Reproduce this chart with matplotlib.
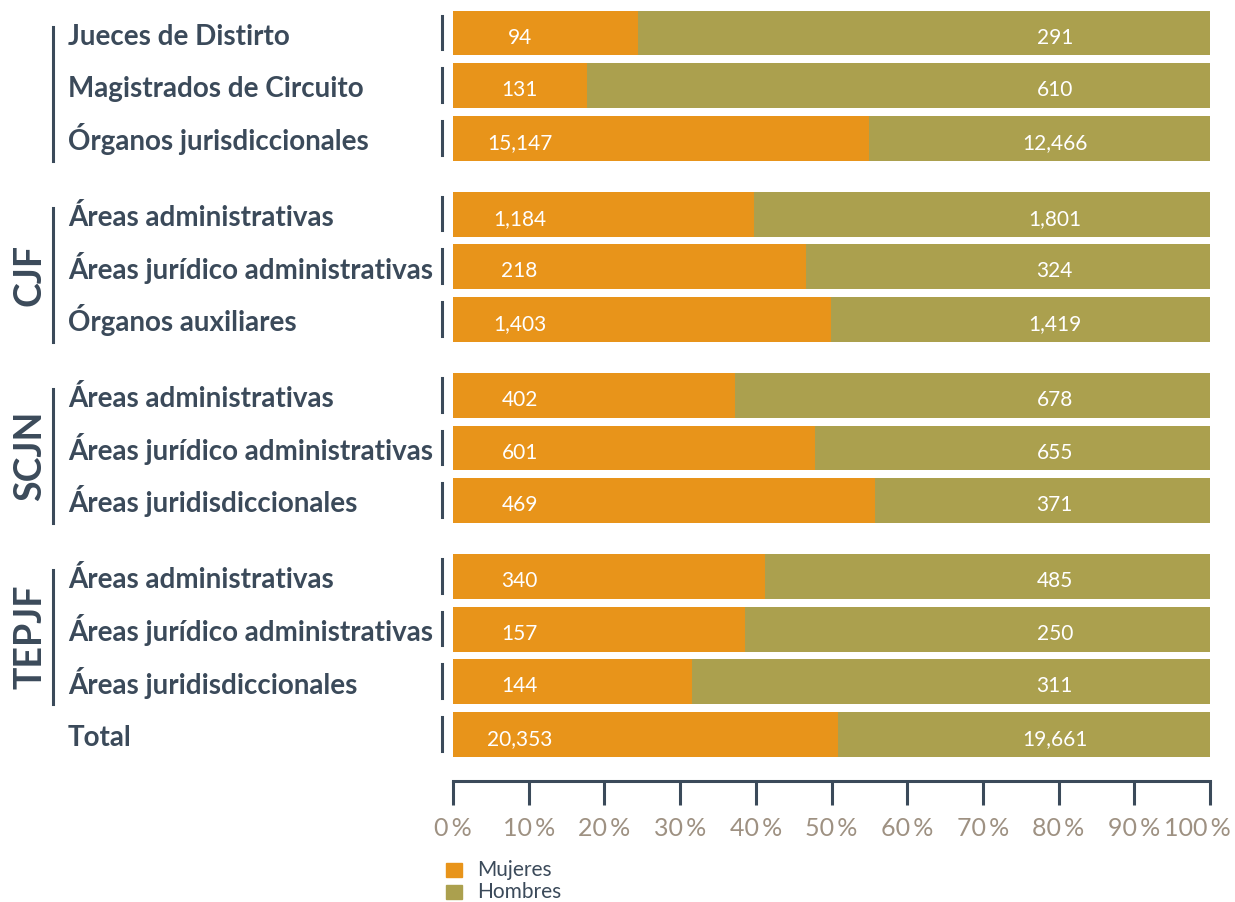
import matplotlib.pyplot as plt
from matplotlib.transforms import blended_transform_factory, ScaledTranslation
from matplotlib.lines import Line2D

# --- Datos ---
categorias = [
    'Jueces de Distirto', 'Magistrados de Circuito', 'Órganos jurisdiccionales',
    'Áreas administrativas', 'Áreas jurídico administrativas', 'Órganos auxiliares',
    'Áreas administrativas', 'Áreas jurídico administrativas', 'Áreas juridisdiccionales',
    'Áreas administrativas', 'Áreas jurídico administrativas', 'Áreas juridisdiccionales',
    'Total',
]
mujeres = [94, 131, 15147, 1184, 218, 1403, 402, 601, 469, 340, 157, 144, 20353]
hombres = [291, 610, 12466, 1801, 324, 1419, 678, 655, 371, 485, 250, 311, 19661]
# porcentaje de mujeres tal como se lee en las barras
pct_mujeres = [24.4, 17.7, 54.9, 39.8, 46.6, 49.9, 37.2, 47.8, 55.8, 41.2, 38.6, 31.6, 50.9]
# bloque visual de cada fila (para el espacio entre grupos)
bloque = [0, 0, 0, 1, 1, 1, 2, 2, 2, 3, 3, 3, 3]
# (nombre, primera fila, última fila) de cada corchete
grupos = [('', 0, 2), ('CJF', 3, 5), ('SCJN', 6, 8), ('TEPJF', 9, 11)]
series = ['Mujeres', 'Hombres']
ticks = list(range(0, 101, 10))

C_MUJ = '#E8941A'
C_HOM = '#ABA04E'
C_TXT = '#3B4A5A'
C_TICK = '#9E9182'
FONT = ['Lato', 'DejaVu Sans']

W, H = 1235, 902
fig = plt.figure(figsize=(W / 100, H / 100), dpi=100)
px = 52.8  # pixeles por fila
ax = fig.add_axes([453 / W, 1 - 781 / H, 757 / W, 781 / H])

ys = [i + 0.43 * g for i, g in enumerate(bloque)]
pct_hombres = [100 - p for p in pct_mujeres]

ax.barh(ys, pct_mujeres, height=0.85, color=C_MUJ, label=series[0])
ax.barh(ys, pct_hombres, left=pct_mujeres, height=0.85, color=C_HOM, label=series[1])

ax.set_xlim(0, 100)
ax.set_ylim((781 - 33) / px, -33 / px)

# etiquetas de valores
for y, m, h in zip(ys, mujeres, hombres):
    ax.text(8.8, y + 0.2, f'{m:,}', color='white', fontsize=15, ha='center',
            va='baseline', family=FONT)
    ax.text(79.5, y + 0.2, f'{h:,}', color='white', fontsize=15, ha='center',
            va='baseline', family=FONT)

# ejes
for s in ['top', 'right', 'left']:
    ax.spines[s].set_visible(False)
ax.spines['bottom'].set_color(C_TXT)
ax.spines['bottom'].set_linewidth(2.2)
ax.set_yticks([])
ax.set_xticks(ticks)
ax.set_xticklabels([f'{t}\u2009%' for t in ticks], family=FONT, fontsize=18,
                   color=C_TICK)
ax.tick_params(axis='x', length=17, width=2.2, color=C_TXT, pad=9)
# el último rótulo va un poco a la izquierda para no salirse de la figura
ultimo = ax.get_xticklabels()[-1]
ultimo.set_transform(ultimo.get_transform() + ScaledTranslation(-0.13, 0, fig.dpi_scale_trans))

# marcas pequeñas a la izquierda de cada barra
tr_ax = blended_transform_factory(ax.transAxes, ax.transData)
for y in ys:
    ax.add_line(Line2D([-0.0145, -0.0145], [y - 0.33, y + 0.31], transform=tr_ax,
                       color=C_TXT, lw=2.2, clip_on=False))

# categorías
tr_fig = blended_transform_factory(fig.transFigure, ax.transData)
for y, c in zip(ys, categorias):
    fig.text(68 / W, y + 0.22, c, transform=tr_fig, fontsize=20, fontweight='bold',
             color=C_TXT, va='baseline', ha='left', family=FONT)

# corchetes y nombres de grupo
for nombre, a, b in grupos:
    y0, y1 = ys[a] - 0.12, ys[b] + 0.42
    fig.add_artist(Line2D([53 / W, 53 / W], [y0, y1], transform=tr_fig,
                          color=C_TXT, lw=2.2))
    if nombre:
        fig.text(30 / W, (y0 + y1) / 2, nombre, transform=tr_fig,
                 rotation=90, fontsize=27, fontweight='bold', color=C_TXT,
                 ha='center', va='center', family=FONT)

# leyenda
for k, (nom, col) in enumerate(zip(series, [C_MUJ, C_HOM])):
    ytop = 863 + k * 22
    fig.patches.append(plt.Rectangle((446 / W, 1 - (ytop + 14) / H), 16 / W, 14 / H,
                                     transform=fig.transFigure, color=col))
    fig.text(477 / W, 1 - (ytop + 7) / H, nom, fontsize=15,
             color=C_TXT, va='center', ha='left', family=FONT)

fig.savefig('out.png', dpi=100)
